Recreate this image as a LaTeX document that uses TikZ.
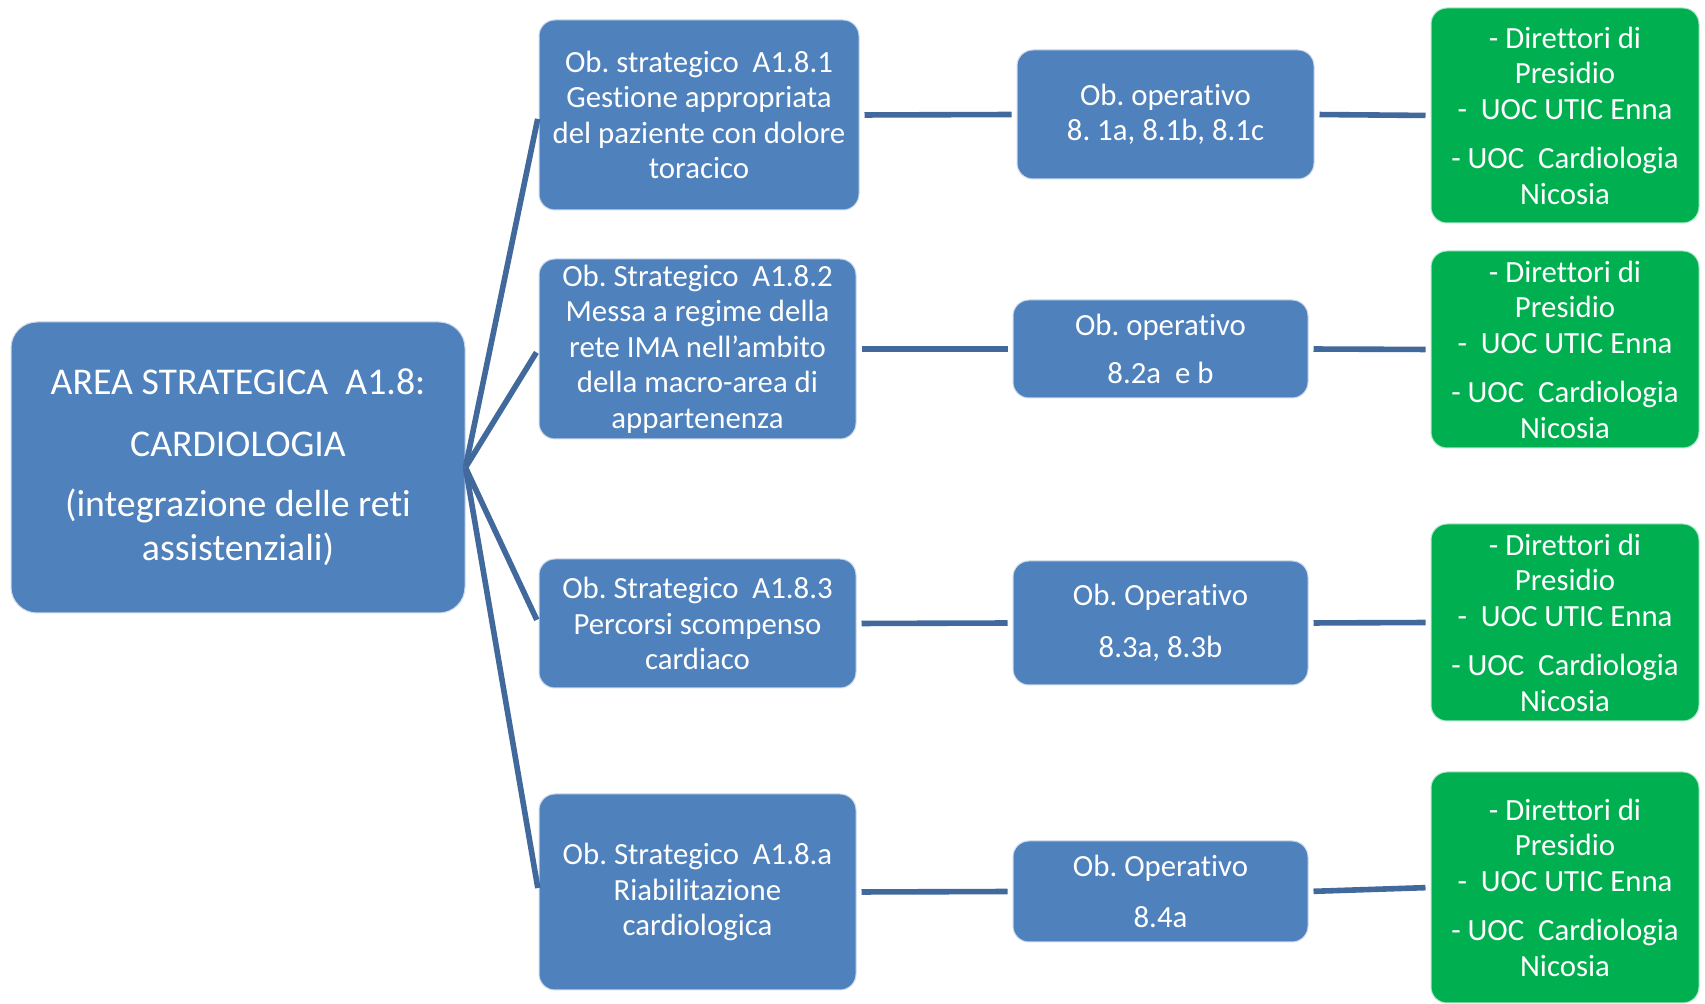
\documentclass[tikz,border=0pt]{standalone}
\usepackage{fontspec}
\setmainfont{Carlito}[Ligatures={NoCommon}]
\definecolor{boxblue}{HTML}{4F81BD}
\definecolor{linkblue}{HTML}{41699C}
\definecolor{boxgreen}{HTML}{00B050}
\frenchspacing
\begin{document}
\begin{tikzpicture}[x=0.5pt,y=-0.5pt,
  box/.style={rectangle, rounded corners=8pt, fill=boxblue, draw=white!70!boxblue,
    line width=0.5pt, text=white, align=center, inner sep=0pt,
    font=\fontsize{15.4}{17.75}\selectfont},
  rootbox/.style={box, rounded corners=13pt, font=\fontsize{18.9}{22}\selectfont},
  greenbox/.style={box, fill=boxgreen, draw=white!70!boxgreen},
  link/.style={draw=linkblue, line width=2.8pt},
  hlink/.style={link, shorten <=2.5pt, shorten >=2.5pt}]
\useasboundingbox (0,0) rectangle (1705,1004);

% root area
\node[rootbox, minimum width=227pt, minimum height=145.5pt] (root) at (238,467.5)
  {AREA STRATEGICA\ \ A1.8:\\[9pt]CARDIOLOGIA\\[8pt](integrazione delle reti\\assistenziali)};

% strategic objectives
\node[box, minimum width=160pt, minimum height=95pt] (s1) at (699,115)
  {Ob. strategico\ \ A1.8.1\\Gestione appropriata\\del paziente con dolore\\toracico};
\node[box, minimum width=158.5pt, minimum height=90pt] (s2) at (697.5,349)
  {Ob. Strategico\ \ A1.8.2\\Messa a regime della\\rete IMA nell’ambito\\della macro-area di\\appartenenza};
\node[box, minimum width=158.5pt, minimum height=64.5pt] (s3) at (697.5,623.5)
  {Ob. Strategico\ \ A1.8.3\\Percorsi scompenso\\cardiaco};
\node[box, minimum width=158.5pt, minimum height=98pt] (s4) at (697.5,892)
  {Ob. Strategico\ \ A1.8.a\\Riabilitazione\\cardiologica};

% operative objectives
\node[box, minimum width=148.5pt, minimum height=64.5pt] (o1) at (1165.5,114.5)
  {Ob. operativo\\8. 1a, 8.1b, 8.1c};
\node[box, minimum width=147.5pt, minimum height=49pt] (o2) at (1160.5,349)
  {Ob. operativo\\[6pt]8.2a\ \ e b};
\node[box, minimum width=147.5pt, minimum height=62pt] (o3) at (1160.5,623)
  {Ob. Operativo\\[8pt]8.3a, 8.3b};
\node[box, minimum width=147.5pt, minimum height=50.5pt] (o4) at (1160.5,891.5)
  {Ob. Operativo\\[8pt]8.4a};

% responsible units
\newcommand{\respunits}{- Direttori di\\Presidio\\-\ \ UOC UTIC Enna\\[7pt]- UOC\ \ Cardiologia\\Nicosia}
\node[greenbox, minimum width=134pt, minimum height=107.5pt] (g1) at (1565,115.5) {\respunits};
\node[greenbox, minimum width=134pt, minimum height=98.5pt] (g2) at (1565,349.5) {\respunits};
\node[greenbox, minimum width=134pt, minimum height=98.5pt] (g3) at (1565,622.5) {\respunits};
\node[greenbox, minimum width=134pt, minimum height=115.5pt] (g4) at (1565,887.5) {\respunits};

% connectors
\coordinate (hub) at (root.east);
\foreach \s in {s1,s2,s3,s4}
  \draw[link, shorten >=2pt] (hub) -- (\s.west);
\foreach \i in {1,2,3,4} {
  \draw[hlink] (s\i.east) -- (o\i.west);
  \draw[hlink] (o\i.east) -- (g\i.west);
}
\end{tikzpicture}
\end{document}
